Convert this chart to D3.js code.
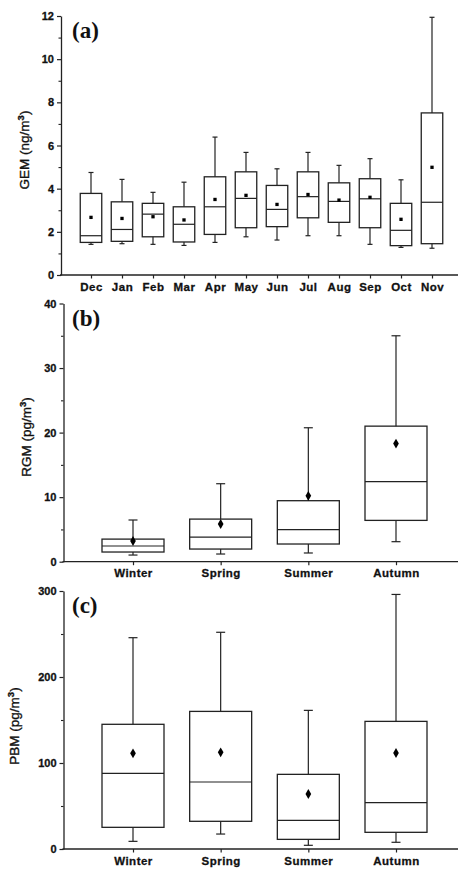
<!DOCTYPE html>
<html><head><meta charset="utf-8">
<script src="https://cdn.jsdelivr.net/npm/d3@7"></script>
<style>body{margin:0;background:#fff}svg{display:block}</style>
</head><body>
<script>
// ---- Panel (a): GEM by month ----
const months = ["Dec","Jan","Feb","Mar","Apr","May","Jun","Jul","Aug","Sep","Oct","Nov"];
const gemLow    = [1.42,1.45,1.42,1.37,1.51,1.77,1.62,1.82,1.82,1.42,1.28,1.24];
const gemQ1     = [1.51,1.56,1.77,1.53,1.88,2.19,2.24,2.65,2.44,2.19,1.36,1.45];
const gemMedian = [1.82,2.11,2.82,2.35,3.16,3.55,3.04,3.63,3.41,3.53,2.07,3.37];
const gemQ3     = [3.78,3.39,3.32,3.16,4.55,4.78,4.15,4.78,4.27,4.46,3.32,7.51];
const gemHigh   = [4.75,4.43,3.83,4.30,6.39,5.68,4.92,5.68,5.08,5.39,4.41,11.94];
const gemMean   = [2.67,2.62,2.70,2.55,3.50,3.69,3.27,3.73,3.47,3.60,2.58,4.99];
const gemTicks  = [0,2,4,6,8,10,12];
const gemMinor  = [1,3,5,7,9,11];

// ---- Panel (b) & (c): seasons ----
const seasons = ["Winter","Spring","Summer","Autumn"];
const rgmLow    = [1.03,1.19,1.35,3.1];
const rgmQ1     = [1.5,1.96,2.74,6.4];
const rgmMedian = [2.43,3.82,4.96,12.4];
const rgmQ3     = [3.5,6.6,9.45,21.0];
const rgmHigh   = [6.46,12.08,20.75,35.0];
const rgmMean   = [3.2,5.84,10.2,18.3];
const rgmTicks  = [0,10,20,30,40];
const rgmMinor  = [5,15,25,35];

const pbmLow    = [8.9,17.4,4.3,7.8];
const pbmQ1     = [25.2,32.2,11.2,19.4];
const pbmMedian = [88,77.9,33.3,53.9];
const pbmQ3     = [145,160,86.8,148.4];
const pbmHigh   = [245.7,252,161.2,296];
const pbmMean   = [111.2,112.4,64,111.6];
const pbmTicks  = [0,100,200,300];
const pbmMinor  = [50,150,250];

const svg = d3.select("body").append("svg").attr("width",459).attr("height",870);
const INK = "#222";

function panel(o){
  const g = svg.append("g");
  const y = d3.scaleLinear().domain(o.domain).range([o.yBottom,o.yTop]);
  const x = d3.scalePoint().domain(o.cats).range(o.catRange);
  const rows = o.cats.map((c,i)=>({c,lo:o.low[i],q1:o.q1[i],md:o.med[i],q3:o.q3[i],hi:o.high[i],mn:o.mean[i]}));

  // y axis
  const ya = g.append("g").attr("transform",`translate(${o.xAxis},0)`)
    .call(d3.axisLeft(y).tickValues(o.ticks).tickSize(4).tickPadding(3).tickSizeOuter(0));
  ya.select(".domain").attr("stroke",INK).attr("stroke-width",1.3);
  ya.selectAll(".tick line").attr("stroke",INK).attr("stroke-width",1.2);
  ya.selectAll("text").attr("font-family","Liberation Sans, Arial, sans-serif")
    .attr("font-weight","bold").attr("font-size","11px").attr("fill","#111")
    .attr("stroke","#111").attr("stroke-width",0.3);
  const ym = g.append("g").attr("transform",`translate(${o.xAxis},0)`)
    .call(d3.axisLeft(y).tickValues(o.minor).tickSize(2.5).tickFormat(""));
  ym.select(".domain").remove();
  ym.selectAll(".tick line").attr("stroke",INK).attr("stroke-width",1.1);

  // x axis
  g.append("line").attr("x1",o.xAxis-1).attr("x2",458).attr("y1",o.yBottom).attr("y2",o.yBottom)
    .attr("stroke",INK).attr("stroke-width",1.3);
  const xa = g.append("g").attr("transform",`translate(0,${o.yBottom})`)
    .call(d3.axisBottom(x).tickSize(3.5).tickPadding(4));
  xa.select(".domain").remove();
  xa.selectAll(".tick line").attr("stroke",INK).attr("stroke-width",1.2);
  xa.selectAll("text").attr("font-family","Liberation Sans, Arial, sans-serif")
    .attr("font-weight","bold").attr("font-size","11.5px").attr("letter-spacing","0.5px").attr("fill","#111")
    .attr("stroke","#111").attr("stroke-width",0.3);

  // boxes
  const bw = o.boxW, cw = o.capW;
  const b = g.selectAll(".bx").data(rows).join("g").attr("class","bx");
  b.append("line").attr("x1",d=>x(d.c)).attr("x2",d=>x(d.c)).attr("y1",d=>y(d.q3)).attr("y2",d=>y(d.hi))
    .attr("stroke",INK).attr("stroke-width",1.2);
  b.append("line").attr("x1",d=>x(d.c)).attr("x2",d=>x(d.c)).attr("y1",d=>y(d.q1)).attr("y2",d=>y(d.lo))
    .attr("stroke",INK).attr("stroke-width",1.2);
  b.append("line").attr("x1",d=>x(d.c)-cw/2).attr("x2",d=>x(d.c)+cw/2).attr("y1",d=>y(d.hi)).attr("y2",d=>y(d.hi))
    .attr("stroke",INK).attr("stroke-width",1.2);
  b.append("line").attr("x1",d=>x(d.c)-cw/2).attr("x2",d=>x(d.c)+cw/2).attr("y1",d=>y(d.lo)).attr("y2",d=>y(d.lo))
    .attr("stroke",INK).attr("stroke-width",1.2);
  b.append("rect").attr("x",d=>x(d.c)-bw/2).attr("width",bw).attr("y",d=>y(d.q3)).attr("height",d=>y(d.q1)-y(d.q3))
    .attr("fill","none").attr("stroke",INK).attr("stroke-width",1.3);
  b.append("line").attr("x1",d=>x(d.c)-bw/2).attr("x2",d=>x(d.c)+bw/2).attr("y1",d=>y(d.md)).attr("y2",d=>y(d.md))
    .attr("stroke",INK).attr("stroke-width",1.2);
  b.append("path").attr("d",d3.symbol().type(o.sym).size(o.symSize))
    .attr("transform",d=>`translate(${x(d.c)},${y(d.mn)})`).attr("fill","#000");

  // axis title
  const t = g.append("text").attr("transform",`translate(${o.titleX},${o.titleY}) rotate(-90)`)
    .attr("text-anchor","middle").attr("font-family","Liberation Sans, Arial, sans-serif")
    .attr("font-size","13.5px").attr("fill","#111").attr("stroke","#111").attr("stroke-width",0.35);
  t.append("tspan").text(o.title);
  t.append("tspan").attr("dy","-5").attr("font-size","9.5px").attr("font-weight","bold").text("3");
  t.append("tspan").attr("dy","5").text(")");

  // panel label
  g.append("text").attr("x",72).attr("y",o.yTop+22).attr("font-family","Liberation Serif, Times New Roman, serif")
    .attr("font-weight","bold").attr("font-size","23px").attr("fill","#111").text(o.label);
}

panel({cats:months,low:gemLow,q1:gemQ1,med:gemMedian,q3:gemQ3,high:gemHigh,mean:gemMean,
  domain:[0,12],ticks:gemTicks,minor:gemMinor,yTop:16,yBottom:275,xAxis:61,catRange:[91,432],
  boxW:21.5,capW:5,sym:d3.symbolSquare,symSize:11,title:"GEM (ng/m",titleX:29,titleY:150,label:"(a)"});
panel({cats:seasons,low:rgmLow,q1:rgmQ1,med:rgmMedian,q3:rgmQ3,high:rgmHigh,mean:rgmMean,
  domain:[0,40],ticks:rgmTicks,minor:rgmMinor,yTop:303.5,yBottom:561.7,xAxis:63.5,catRange:[133,396],
  boxW:62,capW:9,sym:d3.symbolDiamond,symSize:28,title:"RGM (pg/m",titleX:31,titleY:437,label:"(b)"});
panel({cats:seasons,low:pbmLow,q1:pbmQ1,med:pbmMedian,q3:pbmQ3,high:pbmHigh,mean:pbmMean,
  domain:[0,300],ticks:pbmTicks,minor:pbmMinor,yTop:591,yBottom:849,xAxis:63.5,catRange:[133,396],
  boxW:62,capW:9,sym:d3.symbolDiamond,symSize:28,title:"PBM (pg/m",titleX:19,titleY:726,label:"(c)"});
</script>
</body></html>
